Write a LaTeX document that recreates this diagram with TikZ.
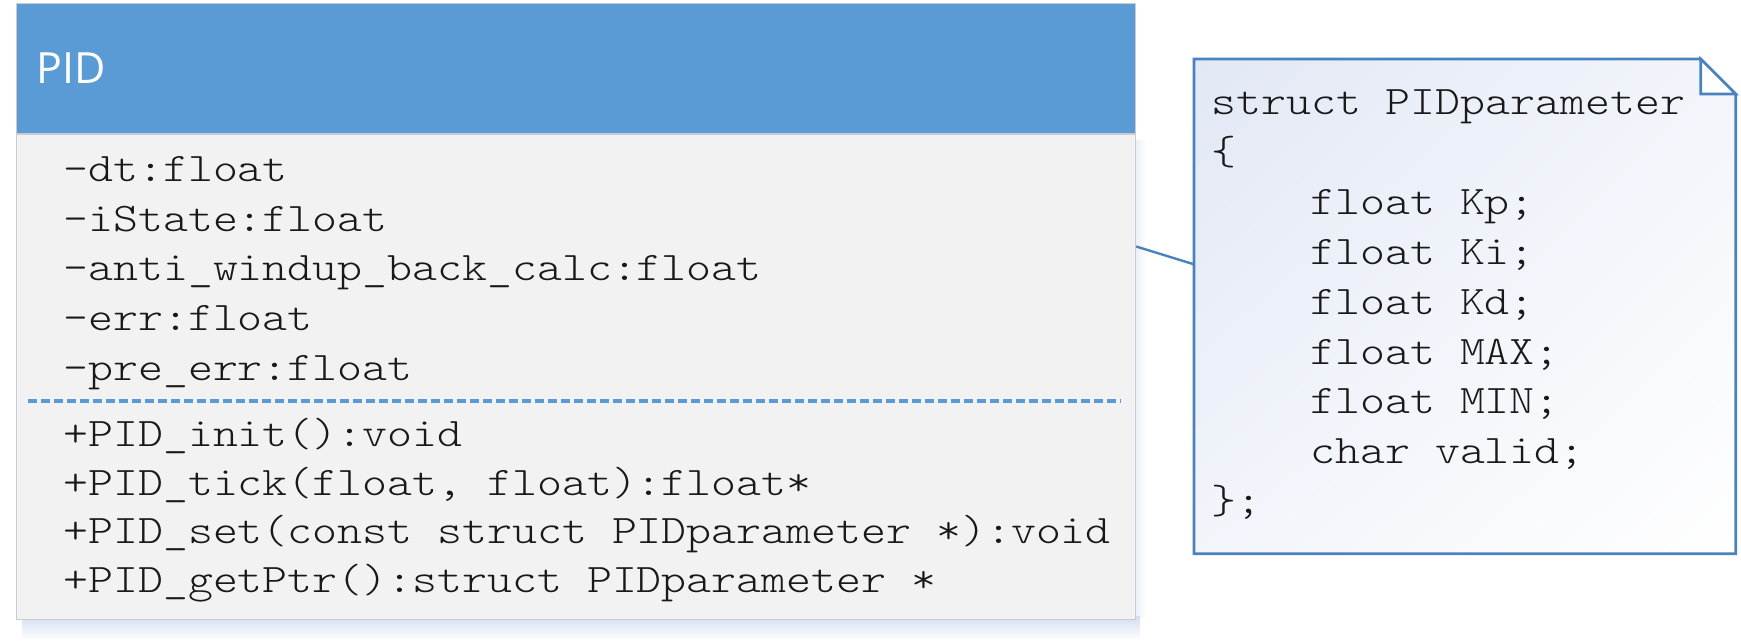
\documentclass[tikz,border=0pt]{standalone}
\usepackage{fontspec}
\setsansfont{Open Sans}
\setmonofont[FakeStretch=1.17]{lmmonolt10-regular.otf}
\usetikzlibrary{positioning, calc, fadings, shadings}
\definecolor{headblue}{RGB}{91,155,213}
\definecolor{bodygray}{RGB}{242,242,242}
\definecolor{edgegray}{RGB}{200,204,210}
\definecolor{noteblue}{RGB}{74,130,189}
\definecolor{notetint}{RGB}{226,232,245}
\definecolor{shadeblue}{RGB}{210,223,240}
\tikzstyle{header} = [rectangle, anchor=north west, minimum width=559.5pt, minimum height=65pt, text width=539.5pt, inner xsep=10pt, inner ysep=0pt, align=left, fill=headblue, draw=edgegray, line width=0.6pt, text=white, font=\sffamily\fontsize{21.5pt}{24pt}\selectfont]
\tikzstyle{body} = [rectangle, minimum width=559.5pt, minimum height=242.5pt, fill=bodygray, draw=edgegray, line width=0.6pt]
\tikzstyle{member} = [anchor=base west, inner sep=0pt, text=black!90, font=\ttfamily\fontsize{20.3pt}{24pt}\selectfont]
\tikzstyle{notebox} = [rectangle, anchor=north west, minimum width=270.5pt, minimum height=247pt, inner sep=0pt]
\tikzstyle{noteline} = [draw=noteblue, line width=1.35pt]
\tikzstyle{link} = [draw=noteblue, line width=1.2pt]
\tikzstyle{sepline} = [draw=headblue, line width=1.6pt, dash pattern=on 4.5pt off 2pt]
\begin{document}
\begin{tikzpicture}[x=0.5pt, y=-0.5pt]
\useasboundingbox (0,0) rectangle (1741,641);

% soft shadow under the class box
\fill [shadeblue, path fading=south] (22,616) rectangle (1141,640);
\fill [shadeblue, path fading=east, opacity=0.6] (1133,140) rectangle (1146,618);

% class box
\node (header) [header] at (16,3) {PID};
\node (body) [body, below=0pt of header] {};

\node (attrdt) [member] at (63,182) {-dt:float};
\node (attristate) [member] at (63,231.5) {-iState:float};
\node (attrwindup) [member] at (63,281) {-anti\_windup\_back\_calc:float};
\node (attrerr) [member] at (63,330.5) {-err:float};
\node (attrpreerr) [member] at (63,380.5) {-pre\_err:float};

\draw [sepline] (28,401) -- (1121,401);

\node (opinit) [member] at (63,447) {+PID\_init():void};
\node (optick) [member] at (63,495.5) {+PID\_tick(float, float):float*};
\node (opset) [member] at (63,544) {+PID\_set(const struct PIDparameter *):void};
\node (opgetptr) [member] at (63,592.5) {+PID\_getPtr():struct PIDparameter *};

% note with folded corner
\node (note) [notebox] at (1194,59) {};
\shadedraw [noteline, upper left=notetint, upper right=notetint!45!white, lower left=notetint!45!white, lower right=white] (note.north west) -- ([xshift=-17.5pt]note.north east) -- ([yshift=-17.5pt]note.north east) -- (note.south east) -- (note.south west) -- cycle;
\filldraw [noteline, fill=white] ([xshift=-17.5pt]note.north east) |- ([yshift=-17.5pt]note.north east) -- cycle;

\node (notehead) [member] at (1211,115) {struct PIDparameter};
\node (noteopen) [member] at (1211,165) {\{};
\node (notekp) [member] at (1310,215) {float Kp;};
\node (noteki) [member] at (1310,265) {float Ki;};
\node (notekd) [member] at (1310,315) {float Kd;};
\node (notemax) [member] at (1310,365) {float MAX;};
\node (notemin) [member] at (1310,414) {float MIN;};
\node (notevalid) [member] at (1310,464) {char valid;};
\node (noteclose) [member] at (1211,514) {\};};

\draw [link] ($(body.north east)!0.231!(body.south east)$) -- ($(note.north west)!0.415!(note.south west)$);

\end{tikzpicture}
\end{document}
